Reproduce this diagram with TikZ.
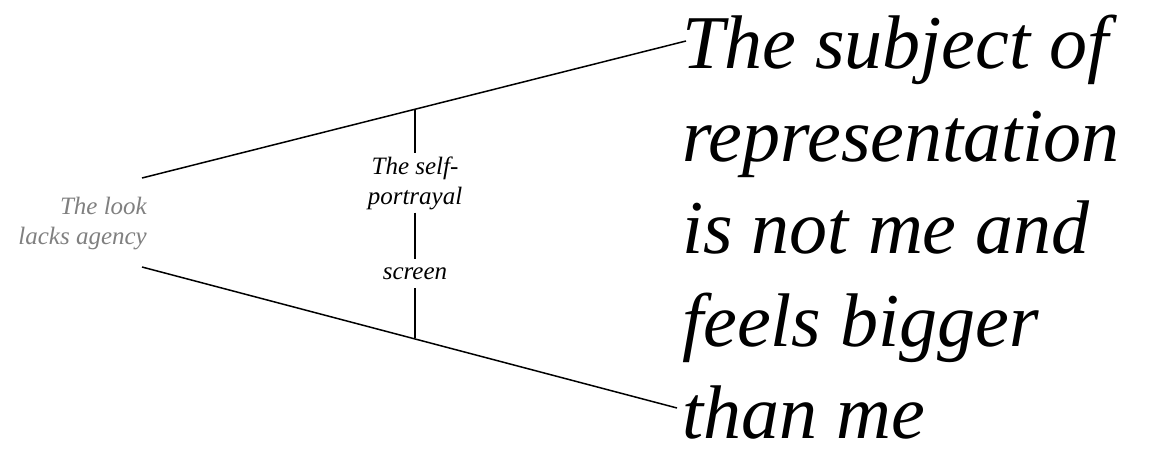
\documentclass[tikz,border=0pt]{standalone}
\usepackage{fontspec}
\setmainfont{Liberation Serif}
\usepackage{tikz}
\usetikzlibrary{positioning}
\definecolor{lookgray}{gray}{0.5}

\begin{document}
\begin{tikzpicture}[x=1pt, y=-1pt,
			line_style/.style={line width=1.5pt, black},
			note_style/.style={font=\itshape\fontsize{25}{30}\selectfont, align=center, inner sep=3pt},
			look_style/.style={font=\itshape\fontsize{25}{30}\selectfont, align=right, text=lookgray, inner sep=0pt},
			big_style/.style={font=\itshape\fontsize{76}{92.5}\selectfont, align=left, inner sep=0pt}]
			\useasboundingbox (0,0) rectangle (1165,452);
			% left and right ends of the two sight lines
			\coordinate (look_top) at (142,178);
			\coordinate (look_bot) at (142,267);
			\coordinate (subj_top) at (686,41);
			\coordinate (subj_bot) at (677,408);
			\coordinate (scr_top) at (415,109);
			\coordinate (scr_bot) at (415,338);
			
			\node[look_style, anchor=east] (look) at (147,224) {The look\\lacks agency};
			\node[note_style] (self) at (415,183) {The self-\\portrayal};
			\node[note_style, text height=17pt, text depth=6pt] (scr) at (415,273.5) {screen};
			\node[big_style, anchor=north west] (subj) at (682,15) {The subject of\\representation\\is not me and\\feels bigger\\than me};
			
			\draw[line_style] (look_top) -- (subj_top);
			\draw[line_style] (look_bot) -- (subj_bot);
			\draw[line_style] (scr_top) -- (self.north);
			\draw[line_style] (self.south) -- (scr.north);
			\draw[line_style] (scr.south) -- (scr_bot);
		\end{tikzpicture}
\end{document}
